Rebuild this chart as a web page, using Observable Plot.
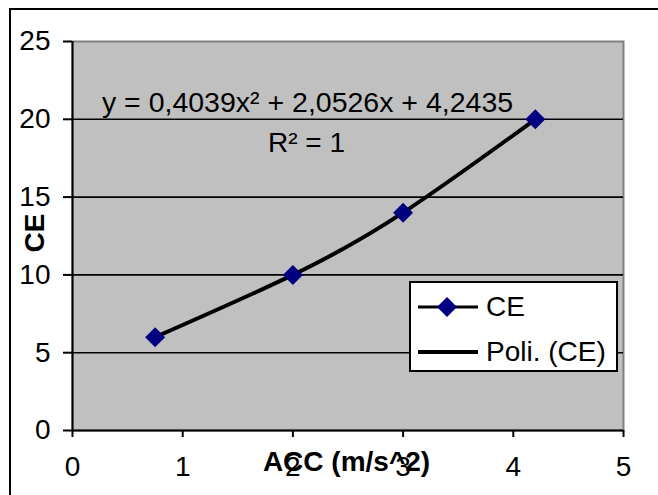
<!DOCTYPE html>
<html>
<head>
<meta charset="utf-8">
<script src="https://cdn.jsdelivr.net/npm/d3@7"></script>
<script src="https://cdn.jsdelivr.net/npm/@observablehq/plot@0.6"></script>
<style>
  html, body { margin: 0; padding: 0; background: #fff; }
  #wrap { position: relative; width: 658px; height: 495px; overflow: hidden; background: #fff; }
  #outer { position: absolute; left: 9px; top: 8px; width: 720px; height: 620px; border: 2px solid #000; box-sizing: border-box; }
  #chart { position: absolute; left: 0; top: 0; }
  #legend { position: absolute; left: 409px; top: 281px; width: 209px; height: 91px; border: 2px solid #000;
            box-sizing: border-box; background: #fff; font-family: "Liberation Sans", Arial, sans-serif; font-size: 28px; color: #000; }
  .row { position: absolute; left: 0; height: 40px; display: flex; align-items: center; }
  .row svg { margin-left: 7px; }
  .row span { margin-left: 6px; line-height: 1; }
</style>
</head>
<body>
<div id="wrap">
  <div id="outer"></div>
  <div id="chart"></div>
  <div id="legend"></div>
</div>
<script>
// ---- data ----
const accValues = [0.75, 2, 3, 4.2];
const ceValues = [6, 10, 14, 20];
const xTicks = [0, 1, 2, 3, 4, 5];
const yTicks = [0, 5, 10, 15, 20, 25];
const gridValues = [5, 10, 15, 20];
const seriesName = "CE";
const trendName = "Poli. (CE)";
const equationText = "y = 0,4039x² + 2,0526x + 4,2435";
const rSquaredText = "R² = 1";
const xTitle = "ACC (m/s^2)";
const yTitle = "CE";

const data = accValues.map((x, i) => ({acc: x, ce: ceValues[i]}));
const FONT = '"Liberation Sans", Arial, sans-serif';

const chart = Plot.plot({
  width: 658,
  height: 495,
  marginLeft: 72,
  marginRight: 35,
  marginTop: 41,
  marginBottom: 65,
  x: {domain: [0, 5]},
  y: {domain: [0, 25]},
  style: {fontFamily: FONT, fontSize: "28px", color: "#000", background: "transparent", overflow: "visible"},
  marks: [
    Plot.frame({fill: "#c0c0c0", stroke: "#808080", strokeWidth: 2}),
    Plot.ruleY(gridValues, {stroke: "#000", strokeWidth: 1.6}),
    Plot.ruleX([0], {stroke: "#000", strokeWidth: 2}),
    Plot.ruleY([0], {stroke: "#000", strokeWidth: 2}),
    Plot.axisX({ticks: xTicks, tickFormat: d => String(d), tickSize: 7, tickPadding: 19, label: null, stroke: "#000", strokeWidth: 2}),
    Plot.axisY({ticks: yTicks, tickFormat: d => String(d), tickSize: 9, tickPadding: 13, label: null, stroke: "#000", strokeWidth: 2}),
    Plot.line(data, {x: "acc", y: "ce", curve: "natural", stroke: "#000", strokeWidth: 4}),
    Plot.dot(data, {x: "acc", y: "ce", symbol: "diamond2", r: 9, fill: "#000080", stroke: "none"}),
    Plot.text([equationText], {text: d => d, frameAnchor: "top-left", dx: 235, dy: 61, lineAnchor: "middle", textAnchor: "middle", fontSize: 28.5, fill: "#000"}),
    Plot.text([rSquaredText], {text: d => d, frameAnchor: "top-left", dx: 234, dy: 102, lineAnchor: "middle", textAnchor: "middle", fill: "#000"}),
    Plot.text([xTitle], {text: d => d, frameAnchor: "bottom-left", dx: 274, dy: 32, lineAnchor: "middle", textAnchor: "middle", fontWeight: "bold", fill: "#000"}),
    Plot.text([yTitle], {text: d => d, frameAnchor: "left", dx: -37, dy: -3, lineAnchor: "middle", rotate: -90, textAnchor: "middle", fontWeight: "bold", fill: "#000"})
  ]
});
document.getElementById("chart").appendChild(chart);

// legend
const legend = document.getElementById("legend");
legend.innerHTML = `
  <div class="row" style="top:4px"><svg width="62" height="24"><line x1="0" y1="12" x2="60" y2="12" stroke="#000" stroke-width="3"/><path d="M29,2 L39,12 L29,22 L19,12 Z" fill="#000080"/></svg><span>${seriesName}</span></div>
  <div class="row" style="top:49px"><svg width="62" height="24"><line x1="0" y1="12" x2="60" y2="12" stroke="#000" stroke-width="4"/></svg><span>${trendName}</span></div>`;
</script>
</body>
</html>
